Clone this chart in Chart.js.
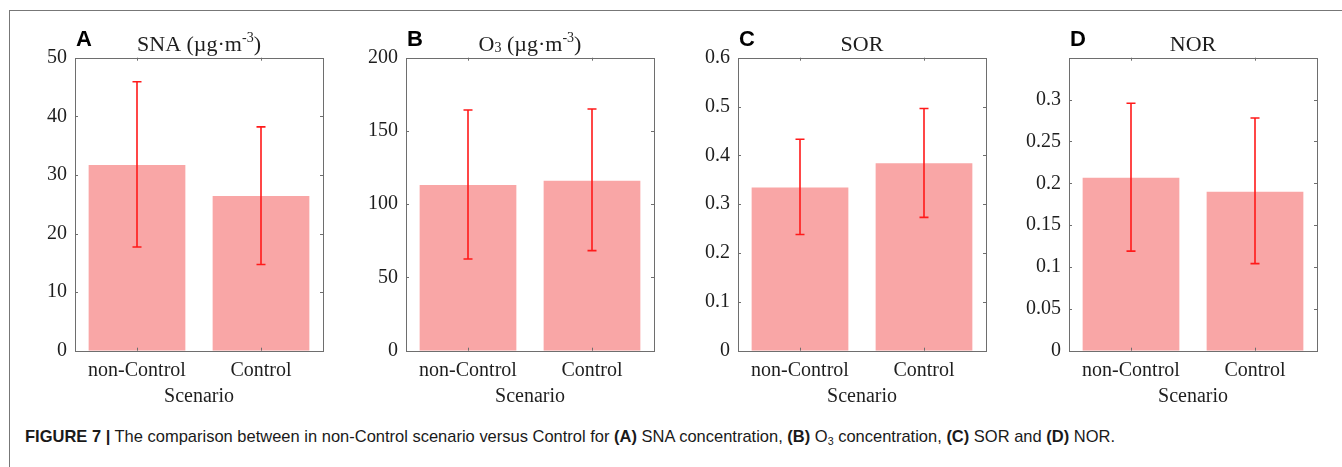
<!DOCTYPE html>
<html>
<head>
<meta charset="utf-8">
<script src="https://cdn.jsdelivr.net/npm/chart.js@4.4.0/dist/chart.umd.min.js"></script>
<style>
  body { margin: 0; background: #fff; width: 1342px; height: 467px; overflow: hidden; position: relative; }
  .frame { position: absolute; left: 9px; top: 10px; width: 1400px; height: 500px;
           border-left: 1px solid #777; border-top: 1px solid #777; }
  canvas { position: absolute; }
  #caption { position: absolute; left: 25px; top: 427px; white-space: nowrap; transform-origin: 0 0;
             font-family: "Liberation Sans", Arial, sans-serif; font-size: 17px; color: #1a1a1a; }
  #caption sub { font-size: 11px; vertical-align: -3px; line-height: 0; }
</style>
</head>
<body>
<div class="frame"></div>
<canvas id="panelA" width="340" height="408"></canvas>
<canvas id="panelB" width="340" height="408"></canvas>
<canvas id="panelC" width="340" height="408"></canvas>
<canvas id="panelD" width="340" height="408"></canvas>
<div id="caption"><b>FIGURE 7 |</b> The comparison between in non-Control scenario versus Control for <b>(A)</b> SNA concentration, <b>(B)</b> O<sub>3</sub> concentration, <b>(C)</b> SOR and <b>(D)</b> NOR.</div>

<script>
// data
const scenarios = ["non-Control", "Control"]

const snaMean = [31.7, 26.4]
const snaLow = [17.7, 14.7]
const snaHigh = [45.9, 38.2]
const snaTicks = [0, 10, 20, 30, 40, 50]

const o3Mean = [113.1, 116.0]
const o3Low = [62.6, 68.3]
const o3High = [164.3, 165.0]
const o3Ticks = [0, 50, 100, 150, 200]

const sorMean = [0.334, 0.384]
const sorLow = [0.238, 0.273]
const sorHigh = [0.433, 0.496]
const sorTicks = [0, 0.1, 0.2, 0.3, 0.4, 0.5, 0.6]

const norMean = [0.2065, 0.190]
const norLow = [0.119, 0.104]
const norHigh = [0.2956, 0.278]
const norTicks = [0, 0.05, 0.1, 0.15, 0.2, 0.25, 0.3]

const SERIF = '"Liberation Serif", "Times New Roman", serif'
const SANS = '"Liberation Sans", Arial, sans-serif'
const AXIS_GREY = '#6e6e6e'
const TEXT = '#1e1e1e'

// error bars on top of the bars
const errorBars = {
  id: 'errorBars',
  afterDatasetsDraw(chart) {
    const {ctx, scales: {x, y}} = chart
    const ds = chart.data.datasets[0]
    ctx.save()
    ctx.strokeStyle = '#ff1a1a'
    ctx.lineWidth = 1.6
    ds.low.forEach((lo, i) => {
      const cx = x.getPixelForValue(i)
      const yl = y.getPixelForValue(lo)
      const yh = y.getPixelForValue(ds.high[i])
      ctx.beginPath()
      ctx.moveTo(cx, yl); ctx.lineTo(cx, yh)
      ctx.moveTo(cx - 4.5, yl); ctx.lineTo(cx + 4.5, yl)
      ctx.moveTo(cx - 4.5, yh); ctx.lineTo(cx + 4.5, yh)
      ctx.stroke()
    })
    ctx.restore()
  }
}

// matlab style box with inward ticks, panel letter and title
const axesBox = {
  id: 'axesBox',
  afterDraw(chart, args, opts) {
    const {ctx, chartArea: a, scales: {x, y}} = chart
    ctx.save()
    ctx.strokeStyle = AXIS_GREY
    ctx.lineWidth = 1
    ctx.strokeRect(Math.round(a.left) + 0.5, Math.round(a.top) + 0.5,
                   Math.round(a.right - a.left), Math.round(a.bottom - a.top))
    ctx.beginPath()
    y.ticks.forEach(t => {
      const py = Math.round(y.getPixelForValue(t.value)) + 0.5
      ctx.moveTo(a.left, py); ctx.lineTo(a.left + 3, py)
      ctx.moveTo(a.right, py); ctx.lineTo(a.right - 3, py)
    })
    x.ticks.forEach((t, i) => {
      const px = Math.round(x.getPixelForValue(i)) + 0.5
      ctx.moveTo(px, a.bottom); ctx.lineTo(px, a.bottom - 3)
      ctx.moveTo(px, a.top); ctx.lineTo(px, a.top + 3)
    })
    ctx.stroke()

    // panel letter
    ctx.fillStyle = '#000'
    ctx.font = 'bold 22px ' + SANS
    ctx.textBaseline = 'alphabetic'
    ctx.textAlign = 'left'
    ctx.fillText(opts.letter, a.left + 1, 34)

    // title built from pieces: normal, sup, sub
    const big = '22px ' + SERIF, small = '14px ' + SERIF
    let w = 0
    opts.title.forEach(p => { ctx.font = p.kind === 'n' ? big : small; w += ctx.measureText(p.text).width })
    let cx = (a.left + a.right) / 2 - w / 2
    ctx.fillStyle = TEXT
    opts.title.forEach(p => {
      ctx.font = p.kind === 'n' ? big : small
      const dy = p.kind === 'sup' ? -9 : (p.kind === 'sub' ? 1 : 0)
      ctx.fillText(p.text, cx, 39 + dy)
      cx += ctx.measureText(p.text).width
    })
    ctx.restore()
  }
}

function makePanel(id, left, mean, low, high, ticks, yMax, letter, title) {
  const el = document.getElementById(id)
  el.style.left = (left - 70) + 'px'
  el.style.top = '12px'
  return new Chart(el, {
    type: 'bar',
    data: {
      labels: scenarios,
      datasets: [{
        data: mean,
        low: low,
        high: high,
        backgroundColor: 'rgb(249,166,166)',
        borderWidth: 0,
        barPercentage: 0.78,
        categoryPercentage: 1
      }]
    },
    options: {
      responsive: false,
      animation: false,
      devicePixelRatio: 1,
      layout: {padding: {left: 0, right: 22, top: 45.7, bottom: 0}},
      plugins: {
        legend: {display: false},
        tooltip: {enabled: false},
        axesBox: {letter: letter, title: title}
      },
      scales: {
        x: {
          offset: true,
          grid: {display: false, drawTicks: false},
          border: {display: false},
          ticks: {color: TEXT, font: {family: SERIF, size: 20}, padding: 8, maxRotation: 0},
          title: {display: true, text: 'Scenario', color: TEXT, font: {family: SERIF, size: 20},
                  padding: {top: 0, bottom: 11}},
          afterFit: s => { s.height = 69.3 }
        },
        y: {
          min: 0,
          max: yMax,
          grid: {display: false, drawTicks: false},
          border: {display: false},
          ticks: {color: TEXT, font: {family: SERIF, size: 20}, padding: 8, callback: v => String(v)},
          afterBuildTicks: s => { s.ticks = ticks.map(v => ({value: v})) },
          afterFit: s => { s.width = 70 }
        }
      }
    },
    plugins: [errorBars, axesBox]
  })
}

const units = [{text: ' (\u00b5g\u00b7m', kind: 'n'}, {text: '-3', kind: 'sup'}, {text: ')', kind: 'n'}]
makePanel('panelA', 75, snaMean, snaLow, snaHigh, snaTicks, 50, 'A', [{text: 'SNA', kind: 'n'}, ...units])
makePanel('panelB', 406.3, o3Mean, o3Low, o3High, o3Ticks, 200, 'B', [{text: 'O', kind: 'n'}, {text: '3', kind: 'sub'}, ...units])
makePanel('panelC', 737.7, sorMean, sorLow, sorHigh, sorTicks, 0.6, 'C', [{text: 'SOR', kind: 'n'}])
makePanel('panelD', 1069.3, norMean, norLow, norHigh, norTicks, 0.35, 'D', [{text: 'NOR', kind: 'n'}])

// squeeze the caption to the width it has in the figure
const cap = document.getElementById('caption')
const capW = cap.getBoundingClientRect().width
cap.style.transform = 'scaleX(' + (1090 / capW) + ')'
</script>
</body>
</html>
